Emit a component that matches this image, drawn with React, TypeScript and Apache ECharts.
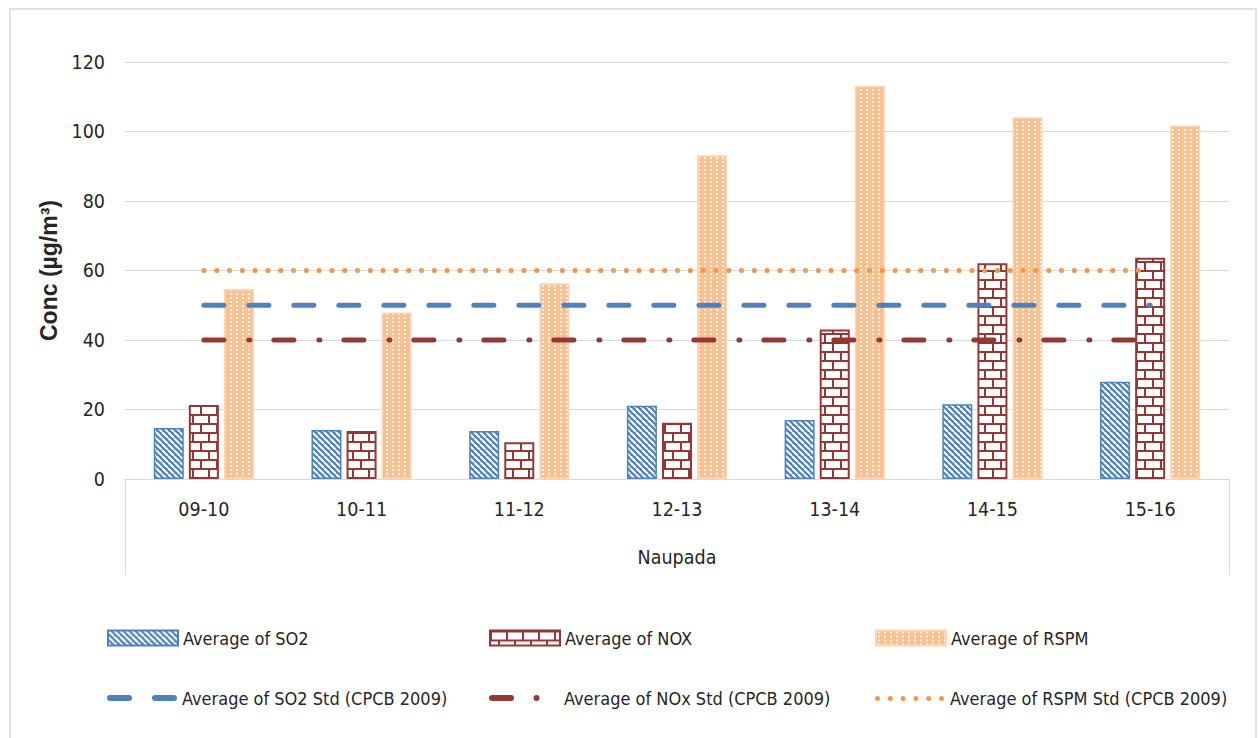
import React, { useEffect, useRef } from 'react';
import * as echarts from 'echarts';

const categories = ['09-10', '10-11', '11-12', '12-13', '13-14', '14-15', '15-16'];
const so2Avg = [14.7, 14.1, 13.8, 21.1, 17.0, 21.5, 28.0];
const noxAvg = [21.3, 13.8, 10.6, 16.2, 43.0, 62.1, 63.7];
const rspmAvg = [54.7, 47.9, 56.3, 93.2, 113.2, 104.1, 101.7];
const so2Std = [50, 50, 50, 50, 50, 50, 50];
const noxStd = [40, 40, 40, 40, 40, 40, 40];
const rspmStd = [60, 60, 60, 60, 60, 60, 60];
const yMin = 0;
const yMax = 120;
const yStep = 20;
const seriesNames = [
  'Average of SO2',
  'Average of NOX',
  'Average of RSPM',
  'Average of SO2 Std (CPCB 2009)',
  'Average of NOx Std (CPCB 2009)',
  'Average of RSPM Std (CPCB 2009)',
];
const xName = 'Naupada';
const yName = 'Conc (µg/m³)';

const BLUE = '#4f81bd';
const RED = '#953735';
const ORANGE = '#f79646';
const PEACH = '#fac090';
const NARROW = "'DejaVu Sans Condensed', 'Liberation Sans Narrow', sans-serif";
const TEXT = '#262626';

function tile(w: number, h: number, draw: (ctx: CanvasRenderingContext2D) => void) {
  const c = document.createElement('canvas');
  c.width = w;
  c.height = h;
  const ctx = c.getContext('2d') as CanvasRenderingContext2D;
  draw(ctx);
  return { image: c, repeat: 'repeat', imageWidth: w, imageHeight: h } as any;
}

export default function App() {
  const ref = useRef<HTMLDivElement>(null);
  useEffect(() => {
    if (!ref.current) return;
    const chart = echarts.init(ref.current, undefined, { renderer: 'svg' });

    const so2Pattern = tile(6, 6, (ctx) => {
      ctx.fillStyle = BLUE;
      ctx.fillRect(0, 0, 6, 6);
      ctx.strokeStyle = '#ffffff';
      ctx.lineWidth = 2;
      for (const k of [-6, 0, 6]) {
        ctx.beginPath();
        ctx.moveTo(k, 0);
        ctx.lineTo(k + 6, 6);
        ctx.stroke();
      }
    });
    const noxPattern = tile(16, 18, (ctx) => {
      ctx.fillStyle = '#ffffff';
      ctx.fillRect(0, 0, 16, 18);
      ctx.fillStyle = RED;
      ctx.fillRect(0, 0, 16, 2);
      ctx.fillRect(0, 9, 16, 2);
      ctx.fillRect(0, 0, 2, 9);
      ctx.fillRect(8, 9, 2, 9);
    });
    const rspmPattern = tile(6, 4, (ctx) => {
      ctx.fillStyle = PEACH;
      ctx.fillRect(0, 0, 6, 4);
      ctx.fillStyle = 'rgba(255,255,255,0.85)';
      ctx.fillRect(2, 1, 2, 2);
    });

    const legendText = { fontFamily: NARROW, fontSize: 18, color: TEXT };
    const mkLegend = (name: string, left: number, top: number, w: number, h: number, icon: string) => ({
      data: [{ name, icon }],
      left,
      top,
      itemWidth: w,
      itemHeight: h,
      padding: 0,
      itemGap: 0,
      symbolKeepAspect: false,
      selectedMode: false,
      textStyle: legendText,
    });

    const blueIcon = 'path://M3,0L22,0A3,3,0,0,1,22,6L3,6A3,3,0,0,1,3,0ZM48,0L67,0A3,3,0,0,1,67,6L48,6A3,3,0,0,1,48,0Z';
    const redIcon = 'path://M3,0L22,0A3,3,0,0,1,22,6L3,6A3,3,0,0,1,3,0ZM47.5,0A3,3,0,0,1,47.5,6A3,3,0,0,1,47.5,0ZM69.9,3L70,3';
    let dots = '';
    for (let i = 0; i < 6; i++) {
      const cx = 2.5 + i * 12.8;
      dots += `M${cx},0A2.5,2.5,0,0,1,${cx},5A2.5,2.5,0,0,1,${cx},0Z`;
    }
    const orangeIcon = 'path://' + dots + 'M69.9,2.5L70,2.5';

    const lineSeries = (name: string, data: number[], color: string, dash: number[]) => ({
      name,
      type: 'line',
      data,
      symbol: 'none',
      z: 5,
      itemStyle: { color },
      lineStyle: { color, width: 5, type: dash, cap: 'round' },
    });

    chart.setOption({
      animation: false,
      backgroundColor: '#ffffff',
      grid: { left: 125, right: 30, top: 62, bottom: 259, containLabel: false },
      xAxis: {
        type: 'category',
        data: categories,
        axisLine: { lineStyle: { color: '#d9d9d9', width: 1 } },
        axisTick: { show: false },
        axisLabel: { fontFamily: NARROW, fontSize: 19.5, color: TEXT, margin: 20 },
        name: xName,
        nameLocation: 'middle',
        nameGap: 68,
        nameTextStyle: { fontFamily: NARROW, fontSize: 19.5, color: TEXT },
      },
      yAxis: {
        type: 'value',
        min: yMin,
        max: yMax,
        interval: yStep,
        axisLine: { show: false },
        axisTick: { show: false },
        axisLabel: { fontFamily: NARROW, fontSize: 19.5, color: TEXT, margin: 20 },
        splitLine: { lineStyle: { color: '#d9d9d9', width: 1 } },
        name: yName,
        nameLocation: 'middle',
        nameRotate: 90,
        nameGap: 60,
        nameTextStyle: { fontFamily: "'Liberation Sans', Arial, sans-serif", fontWeight: 'bold', fontSize: 23, color: TEXT },
      },
      legend: [
        mkLegend(seriesNames[0], 107, 629, 70, 15, 'rect'),
        mkLegend(seriesNames[1], 489, 629, 70, 15, 'rect'),
        mkLegend(seriesNames[2], 875, 629, 70, 15, 'rect'),
        mkLegend(seriesNames[3], 107, 689, 70, 6, blueIcon),
        mkLegend(seriesNames[4], 489, 689, 70, 6, redIcon),
        mkLegend(seriesNames[5], 875, 689.5, 70, 5, orangeIcon),
      ],
      series: [
        {
          name: seriesNames[0],
          type: 'bar',
          data: so2Avg,
          barWidth: 30,
          barGap: '17%',
          itemStyle: { color: so2Pattern, borderColor: BLUE, borderWidth: 1.5 },
        },
        {
          name: seriesNames[1],
          type: 'bar',
          data: noxAvg,
          barWidth: 30,
          barGap: '17%',
          itemStyle: { color: noxPattern, borderColor: RED, borderWidth: 2 },
        },
        {
          name: seriesNames[2],
          type: 'bar',
          data: rspmAvg,
          barWidth: 30,
          barGap: '17%',
          itemStyle: { color: rspmPattern, borderColor: '#fcd5b4', borderWidth: 1.5 },
        },
        lineSeries(seriesNames[3], so2Std, BLUE, [20, 25]),
        lineSeries(seriesNames[4], noxStd, RED, [20, 25, 1, 24]),
        lineSeries(seriesNames[5], rspmStd, ORANGE, [0.1, 12.7]),
      ],
      graphic: [
        {
          type: 'rect',
          silent: true,
          shape: { x: 10, y: 9, width: 1246, height: 740 },
          style: { fill: 'none', stroke: '#d9d9d9', lineWidth: 1.5 },
        },
        {
          type: 'line',
          silent: true,
          shape: { x1: 125.5, y1: 479, x2: 125.5, y2: 575 },
          style: { stroke: '#d9d9d9', lineWidth: 1 },
        },
        {
          type: 'line',
          silent: true,
          shape: { x1: 1229.5, y1: 479, x2: 1229.5, y2: 575 },
          style: { stroke: '#d9d9d9', lineWidth: 1 },
        },
      ],
    });
    return () => chart.dispose();
  }, []);
  return <div ref={ref} style={{ position: 'fixed', left: 0, top: 0, width: 1259, height: 738 }} />;
}
